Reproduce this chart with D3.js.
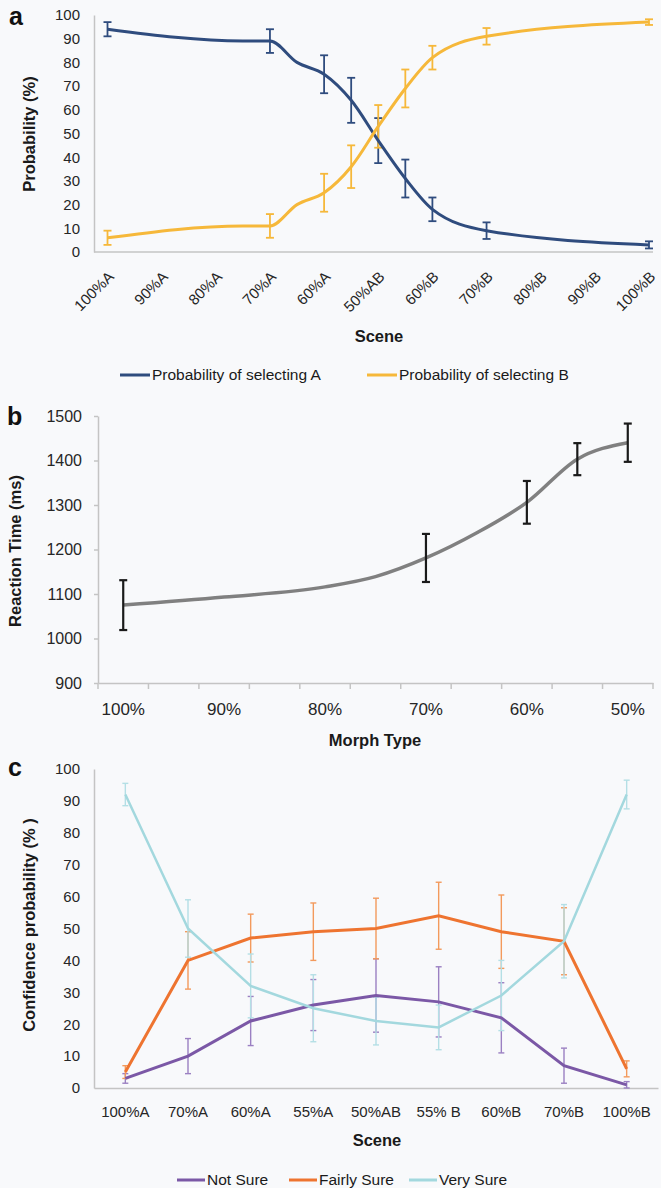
<!DOCTYPE html>
<html>
<head>
<meta charset="utf-8">
<script src="https://cdn.jsdelivr.net/npm/d3@7"></script>
<style>
  body { margin: 0; background: #f8f9fb; }
  svg { display: block; font-family: "Liberation Sans", Arial, sans-serif; }
  .tick text { fill: #262626; }
</style>
</head>
<body>
<svg id="chart" width="661" height="1188"></svg>
<script>
// ---- data ----
// panel a: scene positions (index on the 11-label axis) and probabilities
const sceneLabelsA = ["100%A", "90%A", "80%A", "70%A", "60%A", "50%AB", "60%B", "70%B", "80%B", "90%B", "100%B"];
const scenePosA = [0, 2.5, 3, 3.5, 4, 4.5, 5, 5.5, 6, 7, 10];
const probSelA = [94, 89, 89, 80, 75, 64, 47, 31, 18, 9, 3];
const probSelAErr = [3, null, 5, null, 8, 9.5, 9.5, 8, 5, 3.5, 1.5];
const probSelB = [6, 11, 11, 20, 25, 36, 53, 69, 82, 91, 97];
const probSelBErr = [3, null, 5, null, 8, 9, 9, 8, 5, 3.5, 1.2];

// panel b: morph type categories and reaction times
const morphCats = ["100%", "95%", "90%", "85%", "80%", "75%", "70%", "65%", "60%", "55%", "50%"];
const morphShown = ["100%", "90%", "80%", "70%", "60%", "50%"];
const rtMorph = ["100%", "90%", "80%", "75%", "70%", "65%", "60%", "55%", "50%"];
const rtMean = [1075, 1093, 1116, 1139, 1181, 1237, 1306, 1403, 1440];
const rtErr = [56, null, null, null, 54, null, 48, 36, 43];

// panel c: confidence per scene
const confScenes = ["100%A", "70%A", "60%A", "55%A", "50%AB", "55% B", "60%B", "70%B", "100%B"];
const notSure = [3, 10, 21, 26, 29, 27, 22, 7, 1];
const notSureErr = [1.5, 5.5, 7.7, 8, 11.5, 11, 11, 5.5, 1];
const fairlySure = [5, 40, 47, 49, 50, 54, 49, 46, 6];
const fairlySureErr = [2, 9, 7.5, 9, 9.5, 10.5, 11.5, 10.5, 2.5];
const verySure = [92, 50, 32, 25, 21, 19, 29, 46, 92];
const verySureErr = [3.5, 9, 10, 10.5, 7.5, 7, 11, 11.5, 4.5];

const svg = d3.select("#chart");
const axisColor = "#c4c4c4";

// draws error bars (vertical line + two caps) for one series
function errorBars(g, xs, ys, errs, yScale, color, cap, width) {
  const data = xs.map((x, i) => ({ x, y: ys[i], e: errs[i] })).filter(d => d.e != null);
  const bars = g.append("g").attr("stroke", color).attr("stroke-width", width);
  bars.selectAll("line.v").data(data).join("line")
    .attr("x1", d => d.x).attr("x2", d => d.x)
    .attr("y1", d => yScale(d.y - d.e)).attr("y2", d => yScale(d.y + d.e));
  [-1, 1].forEach(s => {
    bars.selectAll("line.c" + (s > 0 ? "p" : "m")).data(data).join("line")
      .attr("x1", d => d.x - cap).attr("x2", d => d.x + cap)
      .attr("y1", d => yScale(d.y + s * d.e)).attr("y2", d => yScale(d.y + s * d.e));
  });
}

function panelLetter(txt, x, y) {
  svg.append("text").attr("x", x).attr("y", y).text(txt)
    .attr("font-size", 25).attr("font-weight", "bold").attr("fill", "#111");
}

function title(g, txt, x, y, rotate) {
  const t = g.append("text").text(txt)
    .attr("font-size", 16.5).attr("font-weight", "bold").attr("fill", "#1a1a1a")
    .attr("text-anchor", "middle");
  if (rotate) t.attr("transform", `translate(${x},${y}) rotate(-90)`);
  else t.attr("x", x).attr("y", y);
}

// ================= panel a =================
const gA = svg.append("g");
const xA = d3.scaleLinear().domain([0, 10]).range([107.5, 649]);
const yA = d3.scaleLinear().domain([0, 100]).range([252, 15]);

gA.append("g").attr("transform", "translate(94,0)")
  .call(d3.axisLeft(yA).tickValues(d3.range(0, 101, 10)).tickSize(0).tickPadding(14))
  .call(g => g.select(".domain").attr("stroke", axisColor).attr("stroke-width", 1.5))
  .call(g => g.selectAll("text").attr("font-size", 15));

gA.append("line").attr("x1", 94).attr("x2", 653).attr("y1", 252).attr("y2", 252)
  .attr("stroke", axisColor).attr("stroke-width", 1.5);

gA.append("g").attr("transform", "translate(0,252)")
  .call(d3.axisBottom(xA).tickValues(d3.range(11)).tickSize(0).tickFormat(i => sceneLabelsA[i]))
  .call(g => g.select(".domain").remove())
  .call(g => g.selectAll("text").attr("font-size", 15)
    .attr("text-anchor", "end").attr("y", 0).attr("dy", "0.35em")
    .attr("transform", "translate(3,22) rotate(-45)"));

const lineA = d3.line().x(d => xA(d[0])).y(d => yA(d[1])).curve(d3.curveMonotoneX);
const colA = "#2f4c7e", colB = "#f6b83a";
errorBars(gA, scenePosA.map(xA), probSelA, probSelAErr, yA, colA, 4, 1.8);
errorBars(gA, scenePosA.map(xA), probSelB, probSelBErr, yA, colB, 4, 1.8);
gA.append("path").datum(scenePosA.map((p, i) => [p, probSelA[i]]))
  .attr("d", lineA).attr("fill", "none").attr("stroke", colA).attr("stroke-width", 3);
gA.append("path").datum(scenePosA.map((p, i) => [p, probSelB[i]]))
  .attr("d", lineA).attr("fill", "none").attr("stroke", colB).attr("stroke-width", 3);

title(gA, "Scene", 379, 342, false);
title(gA, "Probability  (%)", 35, 134, true);
panelLetter("a", 9, 25);

const legA = [
  { label: "Probability of selecting A", color: colA, x: 120 },
  { label: "Probability of selecting B", color: colB, x: 367 }
];
legA.forEach(d => {
  gA.append("line").attr("x1", d.x).attr("x2", d.x + 30).attr("y1", 375).attr("y2", 375)
    .attr("stroke", d.color).attr("stroke-width", 3);
  gA.append("text").attr("x", d.x + 32).attr("y", 380).text(d.label)
    .attr("font-size", 15.5).attr("fill", "#1a1a1a");
});

// ================= panel b =================
const gB = svg.append("g");
const xB = d3.scaleBand().domain(morphCats).range([98, 653]);
const yB = d3.scaleLinear().domain([900, 1500]).range([683, 416]);

gB.append("g").attr("transform", "translate(98,0)")
  .call(d3.axisLeft(yB).tickValues(d3.range(900, 1501, 100)).tickFormat(d3.format("d"))
    .tickSize(4).tickSizeOuter(0).tickPadding(12))
  .call(g => g.selectAll(".domain, line").attr("stroke", axisColor).attr("stroke-width", 1.5))
  .call(g => g.selectAll("text").attr("font-size", 16));

gB.append("g").attr("transform", "translate(0,683)")
  .call(d3.axisBottom(xB).tickSize(0).tickPadding(20)
    .tickFormat(d => morphShown.includes(d) ? d : ""))
  .call(g => g.select(".domain").attr("stroke", axisColor).attr("stroke-width", 1.5))
  .call(g => g.selectAll("text").attr("font-size", 17));

// tick marks on the band edges
gB.append("g").selectAll("line").data(morphCats.map(c => xB(c)).concat([653])).join("line")
  .attr("x1", d => d).attr("x2", d => d).attr("y1", 683).attr("y2", 689)
  .attr("stroke", axisColor).attr("stroke-width", 1.5);

const cx = c => xB(c) + xB.bandwidth() / 2;
const lineB = d3.line().x(d => cx(d[0])).y(d => yB(d[1])).curve(d3.curveMonotoneX);
gB.append("path").datum(rtMorph.map((c, i) => [c, rtMean[i]]))
  .attr("d", lineB).attr("fill", "none").attr("stroke", "#808080").attr("stroke-width", 3.5);
errorBars(gB, rtMorph.map(cx), rtMean, rtErr, yB, "#1a1a1a", 4, 2.2);

title(gB, "Morph Type", 375, 746, false);
title(gB, "Reaction Time (ms)", 21, 551, true);
panelLetter("b", 7, 425);

// ================= panel c =================
const gC = svg.append("g");
const xC = d3.scaleBand().domain(confScenes).range([94, 658]);
const yC = d3.scaleLinear().domain([0, 100]).range([1088, 769]);

gC.append("g").attr("transform", "translate(94,0)")
  .call(d3.axisLeft(yC).tickValues(d3.range(0, 101, 10)).tickSize(0).tickPadding(14))
  .call(g => g.select(".domain").attr("stroke", axisColor).attr("stroke-width", 1.5))
  .call(g => g.selectAll("text").attr("font-size", 15));

gC.append("g").attr("transform", "translate(0,1088)")
  .call(d3.axisBottom(xC).tickSize(0).tickPadding(18))
  .call(g => g.select(".domain").attr("stroke", axisColor).attr("stroke-width", 1.5))
  .call(g => g.selectAll("text").attr("font-size", 15));

const ccx = c => xC(c) + xC.bandwidth() / 2;
const lineC = d3.line().x(d => ccx(d[0])).y(d => yC(d[1]));
const seriesC = [
  { name: "Not Sure", vals: notSure, errs: notSureErr, color: "#7b58a6", err: "#9b80c2", w: 3, lx: 177 },
  { name: "Fairly Sure", vals: fairlySure, errs: fairlySureErr, color: "#ee7430", err: "#f39a5c", w: 3, lx: 289 },
  { name: "Very Sure", vals: verySure, errs: verySureErr, color: "#a3d8de", err: "#b4dfe5", w: 2.5, lx: 409 }
];
seriesC.forEach(s => {
  errorBars(gC, confScenes.map(ccx), s.vals, s.errs, yC, s.err, 3, 1.4);
});
seriesC.forEach(s => {
  gC.append("path").datum(confScenes.map((c, i) => [c, s.vals[i]]))
    .attr("d", lineC).attr("fill", "none").attr("stroke", s.color).attr("stroke-width", s.w);
  gC.append("line").attr("x1", s.lx).attr("x2", s.lx + 28).attr("y1", 1180).attr("y2", 1180)
    .attr("stroke", s.color).attr("stroke-width", 3);
  gC.append("text").attr("x", s.lx + 30).attr("y", 1185).text(s.name)
    .attr("font-size", 15.5).attr("fill", "#1a1a1a");
});

title(gC, "Scene", 377, 1146, false);
title(gC, "Confidence probability (% )", 35, 925, true);
panelLetter("c", 8, 776);
</script>
</body>
</html>
